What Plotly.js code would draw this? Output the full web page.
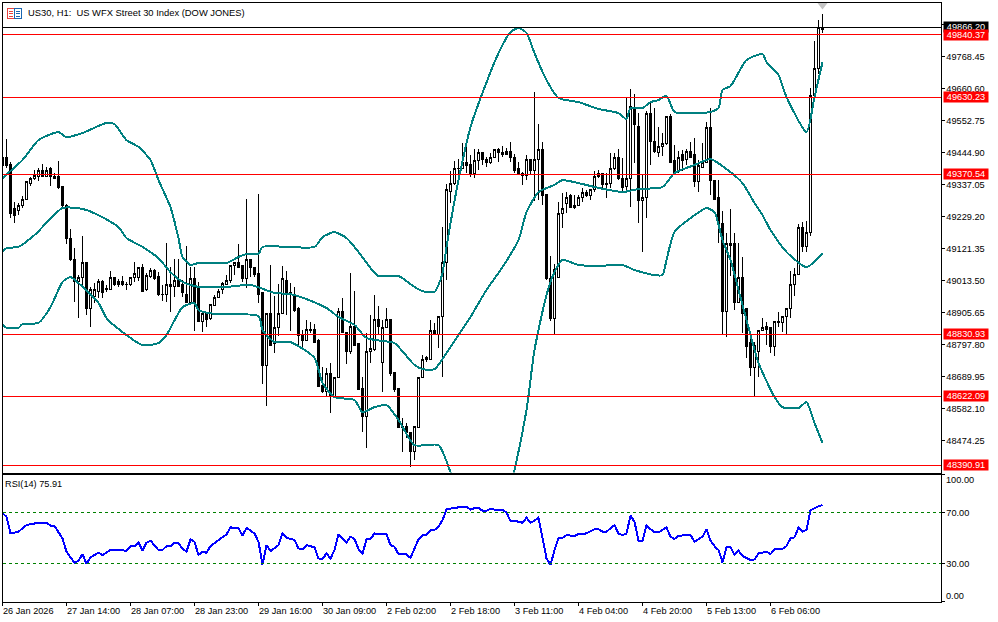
<!DOCTYPE html>
<html><head><meta charset="utf-8">
<script src="https://cdn.plot.ly/plotly-3.0.1.min.js"></script>
<style>html,body{margin:0;padding:0;background:#fff}#c{width:998px;height:622px}
#c .boxes path,#c .shapelayer path,#c .scatterlayer .lines path,#c .xaxislayer-above path,#c .yaxislayer-above path{shape-rendering:crispEdges !important}</style>
</head><body><div id="c"></div>
<script>
const highs=[49426,49490,49412,49277,49274,49298,49345,49362,49385,49392,49405,49395,49395,49375,49416,49328,49271,49186,49122,49031,49163,49075,48991,49004,49018,49014,48998,49045,49024,49018,49028,49008,49024,49075,49055,49068,49038,49055,49051,49041,48998,49139,49058,49085,49085,49014,49129,49058,49058,49008,48903,48903,48933,48964,48984,49008,49031,49065,49075,49136,49062,49287,49085,49058,49304,48971,48903,49065,48960,49001,49062,49045,49004,48991,48923,48846,48880,48873,48866,48816,48721,48718,48735,48687,48920,48954,48839,49038,48977,48802,48687,48836,48896,48964,48927,48880,48920,48880,48704,48650,48549,48532,48502,48522,48687,48762,48758,48880,48870,48893,49193,49338,49382,49416,49422,49476,49480,49436,49456,49456,49446,49429,49443,49456,49459,49466,49459,49480,49439,49412,49378,49436,49422,49648,49540,49480,49304,49095,49068,49277,49308,49311,49304,49301,49301,49325,49318,49321,49382,49385,49375,49375,49443,49443,49456,49426,49628,49658,49641,49577,49372,49584,49611,49594,49530,49510,49564,49574,49469,49449,49453,49456,49480,49493,49419,49476,49547,49594,49351,49351,49247,49173,49254,49173,49139,49092,48920,48836,48805,48843,48886,48873,48853,48873,48907,48893,48917,49045,49055,49203,49210,49213,49662,49820,49891,49911];
const opens=[49426,49426,49405,49257,49250,49264,49287,49341,49355,49365,49382,49365,49389,49362,49362,49328,49267,49153,49085,49008,49024,49075,48920,48960,48977,49011,48987,48984,49024,49008,49008,49001,48998,49024,49024,49055,48981,49028,49048,49028,48967,48964,49001,48991,49014,48998,48967,48940,49021,48991,48876,48903,48886,48930,48957,48981,49001,49014,49062,49075,49062,49021,49085,49058,49038,48971,48725,48903,48799,48853,48900,49014,48974,48964,48917,48829,48812,48849,48849,48809,48660,48640,48698,48623,48687,48910,48839,48772,48859,48799,48650,48556,48775,48779,48880,48735,48853,48880,48704,48650,48522,48522,48502,48435,48519,48687,48745,48748,48846,48832,48893,49075,49314,49341,49389,49392,49412,49405,49375,49416,49443,49422,49409,49429,49456,49443,49446,49446,49429,49389,49375,49368,49422,49382,49419,49456,49304,49021,48886,49024,49237,49271,49298,49267,49264,49294,49311,49301,49318,49375,49375,49341,49341,49389,49429,49355,49328,49355,49591,49533,49281,49291,49577,49483,49443,49463,49473,49567,49416,49382,49436,49419,49446,49436,49348,49395,49409,49530,49351,49291,49206,48910,49139,49136,48940,49024,48920,48805,48718,48775,48843,48859,48853,48792,48873,48870,48890,48917,48998,49034,49190,49126,49176,49638,49729,49860];
const lows=[49385,49392,49223,49206,49233,49257,49287,49331,49351,49348,49362,49362,49331,49355,49321,49260,49136,49079,48940,48886,48991,48896,48856,48937,48954,48954,48974,48984,48994,48991,48994,48981,48994,49008,49011,48974,48977,49021,49014,48960,48943,48940,48907,48957,48991,48957,48940,48937,48843,48873,48839,48856,48880,48927,48957,48967,48998,49004,49031,49058,49008,48987,49024,49024,48937,48664,48590,48792,48768,48826,48900,48896,48843,48907,48789,48782,48812,48836,48805,48654,48633,48620,48566,48623,48687,48836,48732,48765,48792,48647,48502,48448,48735,48775,48829,48637,48853,48691,48637,48519,48435,48482,48384,48408,48519,48687,48738,48745,48832,48785,48687,49014,49274,49335,49345,49392,49375,49362,49358,49385,49402,49395,49405,49426,49412,49429,49436,49412,49375,49372,49335,49351,49368,49281,49284,49267,49014,48876,48832,49024,49190,49240,49260,49254,49264,49277,49294,49284,49311,49358,49325,49291,49325,49385,49351,49311,49311,49260,49409,49206,49109,49223,49402,49443,49429,49432,49469,49409,49375,49375,49382,49402,49426,49328,49311,49395,49409,49301,49284,49139,48832,48822,49028,48913,48940,48836,48752,48691,48620,48687,48843,48795,48768,48758,48856,48839,48832,48886,48960,49034,49109,49109,49163,49631,49709,49847];
const closes=[49402,49402,49240,49233,49267,49287,49345,49355,49368,49385,49362,49385,49362,49358,49325,49264,49153,49082,49008,49024,49075,48917,48981,48981,49008,48974,48984,49024,49001,49001,48998,48998,49024,49038,49055,48977,49031,49048,49021,48964,48964,49001,48991,49014,48994,48971,48940,49018,48940,48876,48903,48883,48933,48957,48977,49004,49014,49065,49072,49058,49021,49085,49055,49034,48964,48725,48903,48795,48856,48900,49018,48974,48971,48913,48829,48812,48849,48846,48805,48654,48640,48698,48623,48687,48910,48836,48775,48859,48795,48647,48556,48775,48782,48880,48859,48856,48880,48701,48647,48519,48519,48502,48435,48522,48687,48745,48752,48846,48832,48893,49075,49318,49341,49389,49392,49412,49399,49372,49416,49443,49419,49409,49429,49456,49443,49439,49439,49426,49382,49372,49368,49422,49382,49422,49453,49301,49021,48886,49051,49237,49257,49294,49260,49260,49294,49311,49301,49318,49365,49362,49338,49338,49389,49429,49355,49325,49355,49598,49537,49281,49291,49577,49483,49446,49463,49473,49564,49412,49378,49429,49416,49446,49429,49348,49399,49409,49530,49351,49287,49203,48910,49139,49132,48940,49024,48900,48789,48721,48795,48843,48856,48849,48792,48873,48870,48893,48917,48998,49034,49190,49126,49176,49638,49729,49864,49866.2];
const upperBars=[-1,4,8,13,15,19,25,27,30,33,36,38,41,43,44,46,48,55,58,60,63,64,77,79,82,85,88,91,93,98,102,104,107,108,109,110,111,113,116,119,123,126,128,130,132,135,138,143,148,153,155,156,159,161,163,165,167,172,176,178,179,181,185,189,190,193,195,200,202,204];
const upperVals=[49358,49419,49486,49513,49496,49510,49544,49540,49486,49463,49419,49351,49260,49156,49092,49065,49072,49072,49092,49102,49102,49126,49126,49159,49176,49156,49109,49055,49028,49028,48991,48977,48974,48998,49038,49126,49206,49351,49530,49645,49779,49850,49864,49847,49779,49688,49628,49614,49591,49577,49557,49594,49594,49614,49621,49635,49581,49577,49581,49594,49655,49668,49756,49776,49749,49705,49631,49513,49631,49749];
const middleBars=[-1,0,3,7,8,14,19,23,28,30,34,38,41,44,48,55,61,67,71,75,80,83,87,90,94,97,102,104,107,110,113,116,120,124,128,130,133,137,139,143,148,154,158,164,167,172,176,181,184,187,189,191,195,200,204];
const middleVals=[49109,49122,49126,49166,49179,49257,49254,49233,49193,49156,49126,49088,49041,49008,48991,48991,48998,48971,48967,48950,48920,48890,48863,48819,48809,48802,48728,48714,48714,48768,48829,48890,48981,49058,49149,49243,49311,49335,49351,49341,49325,49311,49321,49328,49375,49402,49422,49378,49341,49274,49233,49183,49109,49058,49105];
const lowerBars=[-1,0,3,4,8,11,14,16,18,23,25,29,34,38,40,44,47,48,52,63,64,67,71,77,79,82,87,89,92,95,98,102,108,111,117,122,127,130,132,135,137,139,143,148,154,157,162,164,165,167,172,175,177,179,181,183,185,188,192,194,198,200,202,204];
const lowerVals=[48863,48853,48853,48866,48870,48923,49008,49024,49004,48937,48886,48839,48795,48802,48829,48923,48937,48913,48900,48893,48846,48805,48805,48752,48667,48620,48610,48569,48586,48593,48543,48458,48458,48367,48150,48120,48374,48576,48779,48964,49041,49082,49065,49062,49065,49048,49031,49031,49082,49176,49233,49257,49243,49149,49082,48981,48880,48735,48620,48586,48583,48603,48532,48465];
const rsiBars=[-1,0,1,3,5,8,9,10,11,12,14,15,17,18,19,20,21,23,24,26,28,30,31,32,33,34,35,36,38,39,40,41,42,43,44,45,46,47,48,49,50,51,53,55,56,58,59,60,62,63,64,65,66,68,69,70,72,73,74,75,77,78,79,80,81,82,83,85,86,87,88,89,90,91,92,93,95,96,97,98,100,101,102,103,104,105,106,107,108,109,110,112,115,116,117,118,119,120,121,122,124,125,126,127,129,130,131,132,133,134,135,136,137,138,139,140,142,143,145,147,148,149,150,152,153,154,155,156,157,158,159,160,162,163,165,166,167,168,170,171,172,174,175,176,177,178,179,180,181,182,183,184,186,187,188,190,191,192,194,195,196,197,198,199,200,201,202,203,204];
const rsiVals=[69.4,66.8,53.6,55,60.2,62,61.5,62,59.7,59.4,49.7,39.2,30.5,32.1,37.3,29.5,34.7,38.4,36.6,40.5,40.5,40,43.6,43.6,46.3,40,46.3,47.9,40.5,40.5,43.6,43.6,46.3,45.8,41.8,39.2,48.9,47,36.6,39.2,38.4,43.6,48.4,52.8,58.3,58,51.8,58,53.6,47,29.2,44.4,39.7,44.4,53.6,50.2,48.4,41.8,41,44.4,42.6,33.9,33.4,37.9,33.9,40.5,53.1,46.5,51,49.2,41.3,37.3,49.2,49.2,53.6,53.1,53.1,44.4,43.1,37.3,37.3,34.2,41.8,48.9,52.3,52.3,56.3,56.3,58.9,64.1,72.5,73.8,74.6,72.3,73.6,73.6,71.5,71.5,73,72.3,72.3,69.9,63.6,63.6,62,66,62,63.6,66,51,33.9,28.7,40.5,49.7,50.2,52.3,51.5,53.1,53.6,57,57,55,55,60.2,53.6,52.3,53.6,67.5,62.8,47.9,47.9,59.7,54.4,54.4,58.4,51,49.2,51.8,52.3,52.3,47.1,51,57,47.9,43.6,40.5,30.8,42.6,43.1,36.6,40,35.8,32.6,33.1,37.9,39.2,37.3,41,41.5,43.6,49.7,50.5,58.1,55,56.3,72,73.3,75,75.91];
const levels=[49840.37,49630.23,49370.54,48830.93,48622.09,48390.91];
const bidLevel=49866.20;
const priceTicks=[49876.30,49768.45,49660.60,49552.75,49444.90,49337.05,49229.20,49121.35,49013.50,48905.65,48797.80,48689.95,48582.10,48474.25];
const rsiTicks=[100,70,30,0];
const timeBars=[-1,15,31,47,63,79,95,111,127,143,159,175,191];
const timeLabels=['26 Jan 2026','27 Jan 14:00','28 Jan 07:00','28 Jan 23:00','29 Jan 16:00','30 Jan 09:00','2 Feb 02:00','2 Feb 18:00','3 Feb 11:00','4 Feb 04:00','4 Feb 20:00','5 Feb 13:00','6 Feb 06:00'];
const titleText='US30, H1:  US WFX Street 30 Index (DOW JONES)';
const rsiLabel='RSI(14) 75.91';

const FONT='"Liberation Sans", Arial, sans-serif', FS=9.2;
const ML=2,MR=57,MT=2,MB=20, W=998-ML-MR, H=622-MT-MB, B=622-MB;
const px=x=>(x-ML)/W, py=y=>(B-y)/H;
const bars=highs.map((_,i)=>i-1);
const xRange=[-1,233.5];
const xDomain=[px(2.5),px(940.5)];
const band=(x,y)=>({type:'scatter',mode:'lines',x,y,xaxis:'x',yaxis:'y',hoverinfo:'skip',showlegend:false,line:{color:'#008080',width:2,shape:'spline',smoothing:0.6}});
const data=[
 band(upperBars,upperVals),band(middleBars,middleVals),band(lowerBars,lowerVals),
 {type:'candlestick',x:bars,open:opens,high:highs,low:lows,close:closes,xaxis:'x',yaxis:'y',hoverinfo:'skip',showlegend:false,whiskerwidth:0,
  increasing:{line:{color:'#000',width:1},fillcolor:'#fff'},decreasing:{line:{color:'#000',width:1},fillcolor:'#000'}},
 {type:'scatter',mode:'markers',x:[204],y:[49941],xaxis:'x',yaxis:'y',hoverinfo:'skip',showlegend:false,marker:{symbol:'triangle-down',size:9,color:'#c4c4c4'}},
 {type:'scatter',mode:'lines',x:rsiBars,y:rsiVals,xaxis:'x2',yaxis:'y2',hoverinfo:'skip',showlegend:false,line:{color:'#0000ff',width:2}}
];
const shapes=[];
levels.forEach(v=>shapes.push({type:'line',xref:'paper',x0:xDomain[0],x1:xDomain[1],yref:'y',y0:v,y1:v,line:{color:'#ff0000',width:1}}));
shapes.push({type:'line',xref:'paper',x0:xDomain[0],x1:xDomain[1],yref:'y',y0:bidLevel,y1:bidLevel,line:{color:'#000',width:1}});
[70,30].forEach(v=>shapes.push({type:'line',xref:'paper',x0:xDomain[0],x1:xDomain[1],yref:'y2',y0:v,y1:v,line:{color:'#008000',width:1,dash:'3px,3px'}}));
// window icon
const rect=(x0,y0,x1,y1,c)=>shapes.push({type:'rect',xref:'paper',yref:'paper',x0:px(x0),x1:px(x1),y0:py(y0),y1:py(y1),line:{color:c,width:1},fillcolor:'rgba(0,0,0,0)'});
const hl=(x0,x1,y,c)=>shapes.push({type:'line',xref:'paper',yref:'paper',x0:px(x0),x1:px(x1),y0:py(y),y1:py(y),line:{color:c,width:1}});
rect(7.5,8.5,14.5,18.5,'#e8413c');rect(14.5,8.5,21.5,18.5,'#1a66b0');
[11,13.5,16].forEach(y=>{hl(9,13,y,'#e8413c');hl(16,20,y,'#1a66b0');});

const ann=[];
const txt=(text,x,y,o)=>ann.push(Object.assign({text,xref:'paper',yref:'paper',x:px(x),y:py(y),xanchor:'left',yanchor:'middle',showarrow:false,font:{family:FONT,size:FS,color:'#000'},borderpad:0},o||{}));
txt(titleText,26.5,13,{font:{family:FONT,size:9.4,color:'#000'}});
txt(rsiLabel,4,483.5);
timeBars.forEach((b,i)=>ann.push({text:timeLabels[i],xref:'x2',x:b,yref:'paper',y:py(611),xanchor:'left',yanchor:'middle',xshift:-1,borderpad:0,showarrow:false,font:{family:FONT,size:FS,color:'#000'}}));
txt('100.00',945,479.5);txt('0.00',945,596);
const tag=(v,bg)=>ann.push({text:v.toFixed(2),xref:'paper',x:px(943),yref:'y',y:v,xanchor:'left',yanchor:'middle',showarrow:false,width:44,height:10,align:'center',bgcolor:bg,borderpad:0,font:{family:FONT,size:FS,color:'#fff'}});
tag(bidLevel,'#000');levels.forEach(v=>tag(v,'#ff0000'));

const axis={showgrid:false,zeroline:false,showline:true,linecolor:'#000',linewidth:1,mirror:true,fixedrange:true};
const tickfont={family:FONT,size:FS,color:'#000'};
const layout={width:998,height:622,margin:{l:ML,r:MR,t:MT,b:MB,pad:0},paper_bgcolor:'#fff',plot_bgcolor:'#fff',showlegend:false,hovermode:false,boxgap:0.5,
 xaxis:Object.assign({},axis,{domain:xDomain,range:xRange,anchor:'y',showticklabels:false,ticks:'',rangeslider:{visible:false}}),
 xaxis2:Object.assign({},axis,{domain:xDomain,range:xRange,anchor:'y2',tickmode:'array',tickvals:timeBars,ticktext:timeBars.map(()=>''),ticks:'outside',ticklen:3,tickcolor:'#000',tickfont}),
 yaxis:Object.assign({},axis,{domain:[py(472.5),py(2.5)],range:[48365.7,49949.8],side:'right',anchor:'x',tickmode:'array',tickvals:priceTicks,ticktext:priceTicks.map(v=>v.toFixed(2)),ticks:'outside',ticklen:3,tickcolor:'#000',tickfont}),
 yaxis2:Object.assign({},axis,{domain:[py(601.5),py(474.5)],range:[0,100],side:'right',anchor:'x2',tickmode:'array',tickvals:rsiTicks,ticktext:rsiTicks.map(v=>(v===70||v===30)?v.toFixed(2):''),ticks:'outside',ticklen:3,tickcolor:'#000',tickfont}),
 shapes,annotations:ann};
Plotly.newPlot('c',data,layout,{staticPlot:true,displayModeBar:false});
</script></body></html>
